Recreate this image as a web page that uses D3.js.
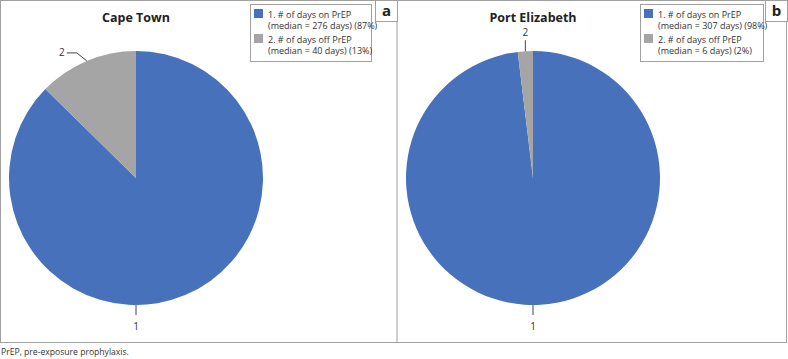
<!DOCTYPE html>
<html lang="en">
<head>
  <meta charset="UTF-8">
  <title>Days on / off PrEP</title>
  <script src="https://d3js.org/d3.v7.min.js"></script>
  <style>
    body { margin: 0; font-family: "Open Sans", "Liberation Sans", sans-serif; background: #fff; }
  </style>
</head>
<body>
  <div id="chart"></div>
  <script>
    // data
    const panels = ["a", "b"];
    const sites = ["Cape Town", "Port Elizabeth"];
    const sliceLabels = ["1", "2"];
    const medianDays = [[276, 40], [307, 6]];
    const percents = [[87, 13], [98, 2]];
    const legendNames = ["1. # of days on PrEP", "2. # of days off PrEP"];
    const colors = ["#4772bb", "#a5a5a5"];

    const W = 788, H = 359, panelW = 397, frameH = 342;

    const svg = d3.select("#chart").append("svg")
      .attr("width", W).attr("height", H);

    // outer frame + divider
    svg.append("rect")
      .attr("x", 0.5).attr("y", 0.5)
      .attr("width", W - 2).attr("height", frameH)
      .attr("fill", "none").attr("stroke", "#a0a0a0");
    svg.append("line")
      .attr("x1", panelW).attr("x2", panelW)
      .attr("y1", 0).attr("y2", frameH)
      .attr("stroke", "#a0a0a0");

    const pie = d3.pie().sort(null).value(d => d);
    const R = 127;
    const arc = d3.arc().innerRadius(0).outerRadius(R);

    panels.forEach((p, i) => {
      const g = svg.append("g").attr("transform", `translate(${i === 0 ? 0 : panelW},0)`);
      const cx = 136, cy = 178;

      // title
      g.append("text")
        .attr("x", cx).attr("y", 22)
        .attr("text-anchor", "middle")
        .style("font-size", "12.5px").style("font-weight", "bold")
        .attr("fill", "#222")
        .text(sites[i]);

      const arcs = pie(medianDays[i]);
      const pg = g.append("g").attr("transform", `translate(${cx},${cy})`);
      pg.selectAll("path")
        .data(arcs)
        .enter().append("path")
        .attr("d", arc)
        .attr("fill", (d, k) => colors[k]);

      // labels
      arcs.forEach((d, k) => {
        const lg = pg.append("g");
        if (k === 0) {
          // placed under the pie
          lg.append("line")
            .attr("x1", 0).attr("x2", 0)
            .attr("y1", R).attr("y2", R + 10)
            .attr("stroke", "#444");
          lg.append("text")
            .attr("x", 0).attr("y", R + 25)
            .attr("text-anchor", "middle")
            .style("font-size", "10px").attr("fill", "#333")
            .text(sliceLabels[k]);
        } else {
          const mid = (d.startAngle + d.endAngle) / 2;
          const ex = R * Math.sin(mid), ey = -R * Math.cos(mid);
          if (Math.abs(ex) < 15) {
            lg.append("line")
              .attr("x1", ex).attr("x2", ex)
              .attr("y1", ey).attr("y2", ey - 11)
              .attr("stroke", "#444");
            lg.append("text")
              .attr("x", ex).attr("y", ey - 15)
              .attr("text-anchor", "middle")
              .style("font-size", "10px").attr("fill", "#333")
              .text(sliceLabels[k]);
          } else {
            const bx = ex - 10, by = ey - 8;
            lg.append("polyline")
              .attr("points", `${ex},${ey} ${bx},${by} ${bx - 10},${by}`)
              .attr("fill", "none").attr("stroke", "#444");
            lg.append("text")
              .attr("x", bx - 12).attr("y", by + 3.5)
              .attr("text-anchor", "end")
              .style("font-size", "10px").attr("fill", "#333")
              .text(sliceLabels[k]);
          }
        }
      });

      // legend
      const lx = i === 0 ? 250 : 243;
      const lw = i === 0 ? 121 : 123;
      const leg = g.append("g").attr("transform", `translate(${lx},4)`);
      leg.append("rect")
        .attr("x", 0.5).attr("y", 0.5)
        .attr("width", lw).attr("height", 57)
        .attr("fill", "#fff").attr("stroke", "#a0a0a0");
      legendNames.forEach((name, k) => {
        const yy = 5 + k * 25;
        leg.append("rect")
          .attr("x", 4).attr("y", yy)
          .attr("width", 9).attr("height", 9)
          .attr("fill", colors[k]);
        leg.append("text")
          .attr("x", 18).attr("y", yy + 8.5)
          .style("font-size", "9px").attr("fill", "#333")
          .text(name);
        leg.append("text")
          .attr("x", 18).attr("y", yy + 20)
          .style("font-size", "9px").attr("fill", "#333")
          .text(`(median = ${medianDays[i][k]} days) (${percents[i][k]}%)`);
      });

      // panel letter box
      const bxl = i === 0 ? 375 : 368;
      g.append("rect")
        .attr("x", bxl + 0.5).attr("y", 0.5)
        .attr("width", 22).attr("height", 21)
        .attr("fill", "#fff").attr("stroke", "#a0a0a0");
      g.append("text")
        .attr("x", bxl + 11.5).attr("y", 16)
        .attr("text-anchor", "middle")
        .style("font-size", "15px").style("font-weight", "bold")
        .attr("fill", "#222")
        .text(p);
    });

    // footnote
    svg.append("text")
      .attr("x", 1).attr("y", 355)
      .style("font-size", "8.6px").attr("fill", "#333")
      .text("PrEP, pre-exposure prophylaxis.");
  </script>
</body>
</html>
